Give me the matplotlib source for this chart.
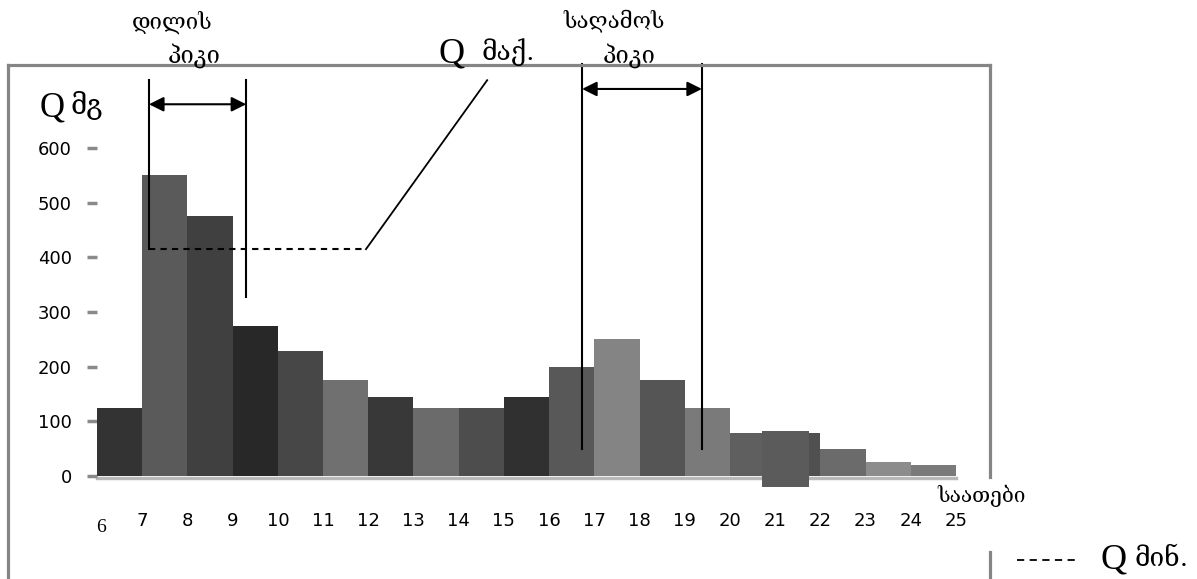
import matplotlib
matplotlib.use("Agg")
import matplotlib.pyplot as plt
from matplotlib.lines import Line2D

W, H = 1197, 579

# hourly flow, bar i covers hour i .. i+1
hours = list(range(6, 25))
flow = [125, 550, 475, 275, 228, 175, 145, 125, 125, 145, 200, 250, 175, 125, 78, 78, 50, 25, 20]
shades = ['#333333', '#5a5a5a', '#404040', '#282828', '#474747', '#707070', '#383838',
          '#6b6b6b', '#4d4d4d', '#303030', '#585858', '#848484', '#555555', '#7a7a7a',
          '#5f5f5f', '#505050', '#6b6b6b', '#8c8c8c', '#7a7a7a']

# the odd overlapping block around 21h
extra_x = [20.7]
extra_w = 1.05
extra_bottom = [-20]
extra_top = [82]

tick_hours = list(range(7, 26))
y_ticks = [0, 100, 200, 300, 400, 500, 600]

morning_peak = [7.15, 9.3]
evening_peak = [16.73, 19.38]
q_max = 415
q_max_end = 11.95
q_max_label = (14.63, 724)

fig = plt.figure(figsize=(W / 100, H / 100), dpi=100)
ax = fig.add_axes([97 / W, 1 - 476 / H, (956 - 97) / W, (476 - 148) / H])
ax.set_xlim(6, 25)
ax.set_ylim(0, 600)

ax.bar(hours, flow, width=1, align='edge', color=shades, clip_on=False, zorder=2)
ax.bar(extra_x, [t - b for t, b in zip(extra_top, extra_bottom)], bottom=extra_bottom,
       width=extra_w, align='edge', color='#5b5b5b', clip_on=False, zorder=3)
# light floor under the bars
ax.plot([6, 25], [-3, -3], color='#b8b8b8', lw=2.5, clip_on=False, zorder=1)

for sp in ax.spines.values():
    sp.set_visible(False)

ax.set_yticks(y_ticks)
ax.tick_params(axis='y', length=7, width=2.5, color='#8a8a8a', pad=11, labelsize=13)
ax.set_xticks(tick_hours)
ax.set_xticklabels([str(h) for h in tick_hours])
ax.tick_params(axis='x', length=0, pad=26, labelsize=13)

# morning peak
ax.plot([morning_peak[0]] * 2, [724, q_max], color='k', lw=1.5, clip_on=False, zorder=4)
ax.plot([morning_peak[1]] * 2, [724, 327], color='k', lw=1.5, clip_on=False, zorder=4)
ax.annotate('', xy=(morning_peak[1], 680), xytext=(morning_peak[0], 680),
            arrowprops=dict(arrowstyle='<|-|>', color='k', lw=1.5, mutation_scale=22,
                            shrinkA=0, shrinkB=0), annotation_clip=False)

# evening peak
for xv in evening_peak:
    ax.plot([xv, xv], [754, 49], color='k', lw=1.5, clip_on=False, zorder=4)
ax.annotate('', xy=(evening_peak[1], 708), xytext=(evening_peak[0], 708),
            arrowprops=dict(arrowstyle='<|-|>', color='k', lw=1.5, mutation_scale=22,
                            shrinkA=0, shrinkB=0), annotation_clip=False)

# Q max dashed level and leader
ax.plot([morning_peak[0], q_max_end], [q_max, q_max], color='k', lw=1.5,
        ls=(0, (3, 2.5)), clip_on=False, zorder=4)
ax.plot([q_max_end, q_max_label[0]], [q_max, q_max_label[1]], color='k', lw=1.3,
        clip_on=False, zorder=4)

# frame around the chart
fc = '#858585'
for xs, ys in [([8, 8], [579, 65]), ([8, 990], [65, 65]),
               ([990, 990], [65, 477]), ([990, 990], [552, 579])]:
    fig.add_artist(Line2D([x / W for x in xs], [1 - y / H for y in ys], color=fc, lw=2.3))


def ftext(x, y, s, **kw):
    fig.text(x / W, 1 - y / H, s, **kw)


geo = ['DejaVu Serif', 'DejaVu Sans']
serif = ['Liberation Serif', 'DejaVu Sans']

ftext(172, 22, 'დილის', ha='center', va='center', fontsize=16, family=geo)
ftext(194, 56, 'პიკი', ha='center', va='center', fontsize=17, family=geo)
ftext(614, 21, 'საღამოს', ha='center', va='center', fontsize=16, family=geo)
ftext(629, 56, 'პიკი', ha='center', va='center', fontsize=17, family=geo)

ftext(439, 62, 'Q', ha='left', va='baseline', fontsize=26, family=serif)
ftext(482, 60, 'მაქ.', ha='left', va='baseline', fontsize=19, family=geo)
ftext(40, 116, 'Q', ha='left', va='baseline', fontsize=25, family=serif)
ftext(71, 114, 'მგ', ha='left', va='baseline', fontsize=20, family=geo)

ftext(937, 496, 'საათები', ha='left', va='center', fontsize=15, family=geo)
ftext(101, 527, '6', ha='center', va='center', fontsize=14, family=serif)

fig.add_artist(Line2D([1017 / W, 1080 / W], [1 - 560 / H] * 2, color='k', lw=1.3,
                      ls=(0, (4, 3))))
ftext(1100, 568, 'Q', ha='left', va='baseline', fontsize=26, family=serif)
ftext(1135, 566, 'მინ.', ha='left', va='baseline', fontsize=19, family=geo)

fig.savefig('out.png', dpi=100)
